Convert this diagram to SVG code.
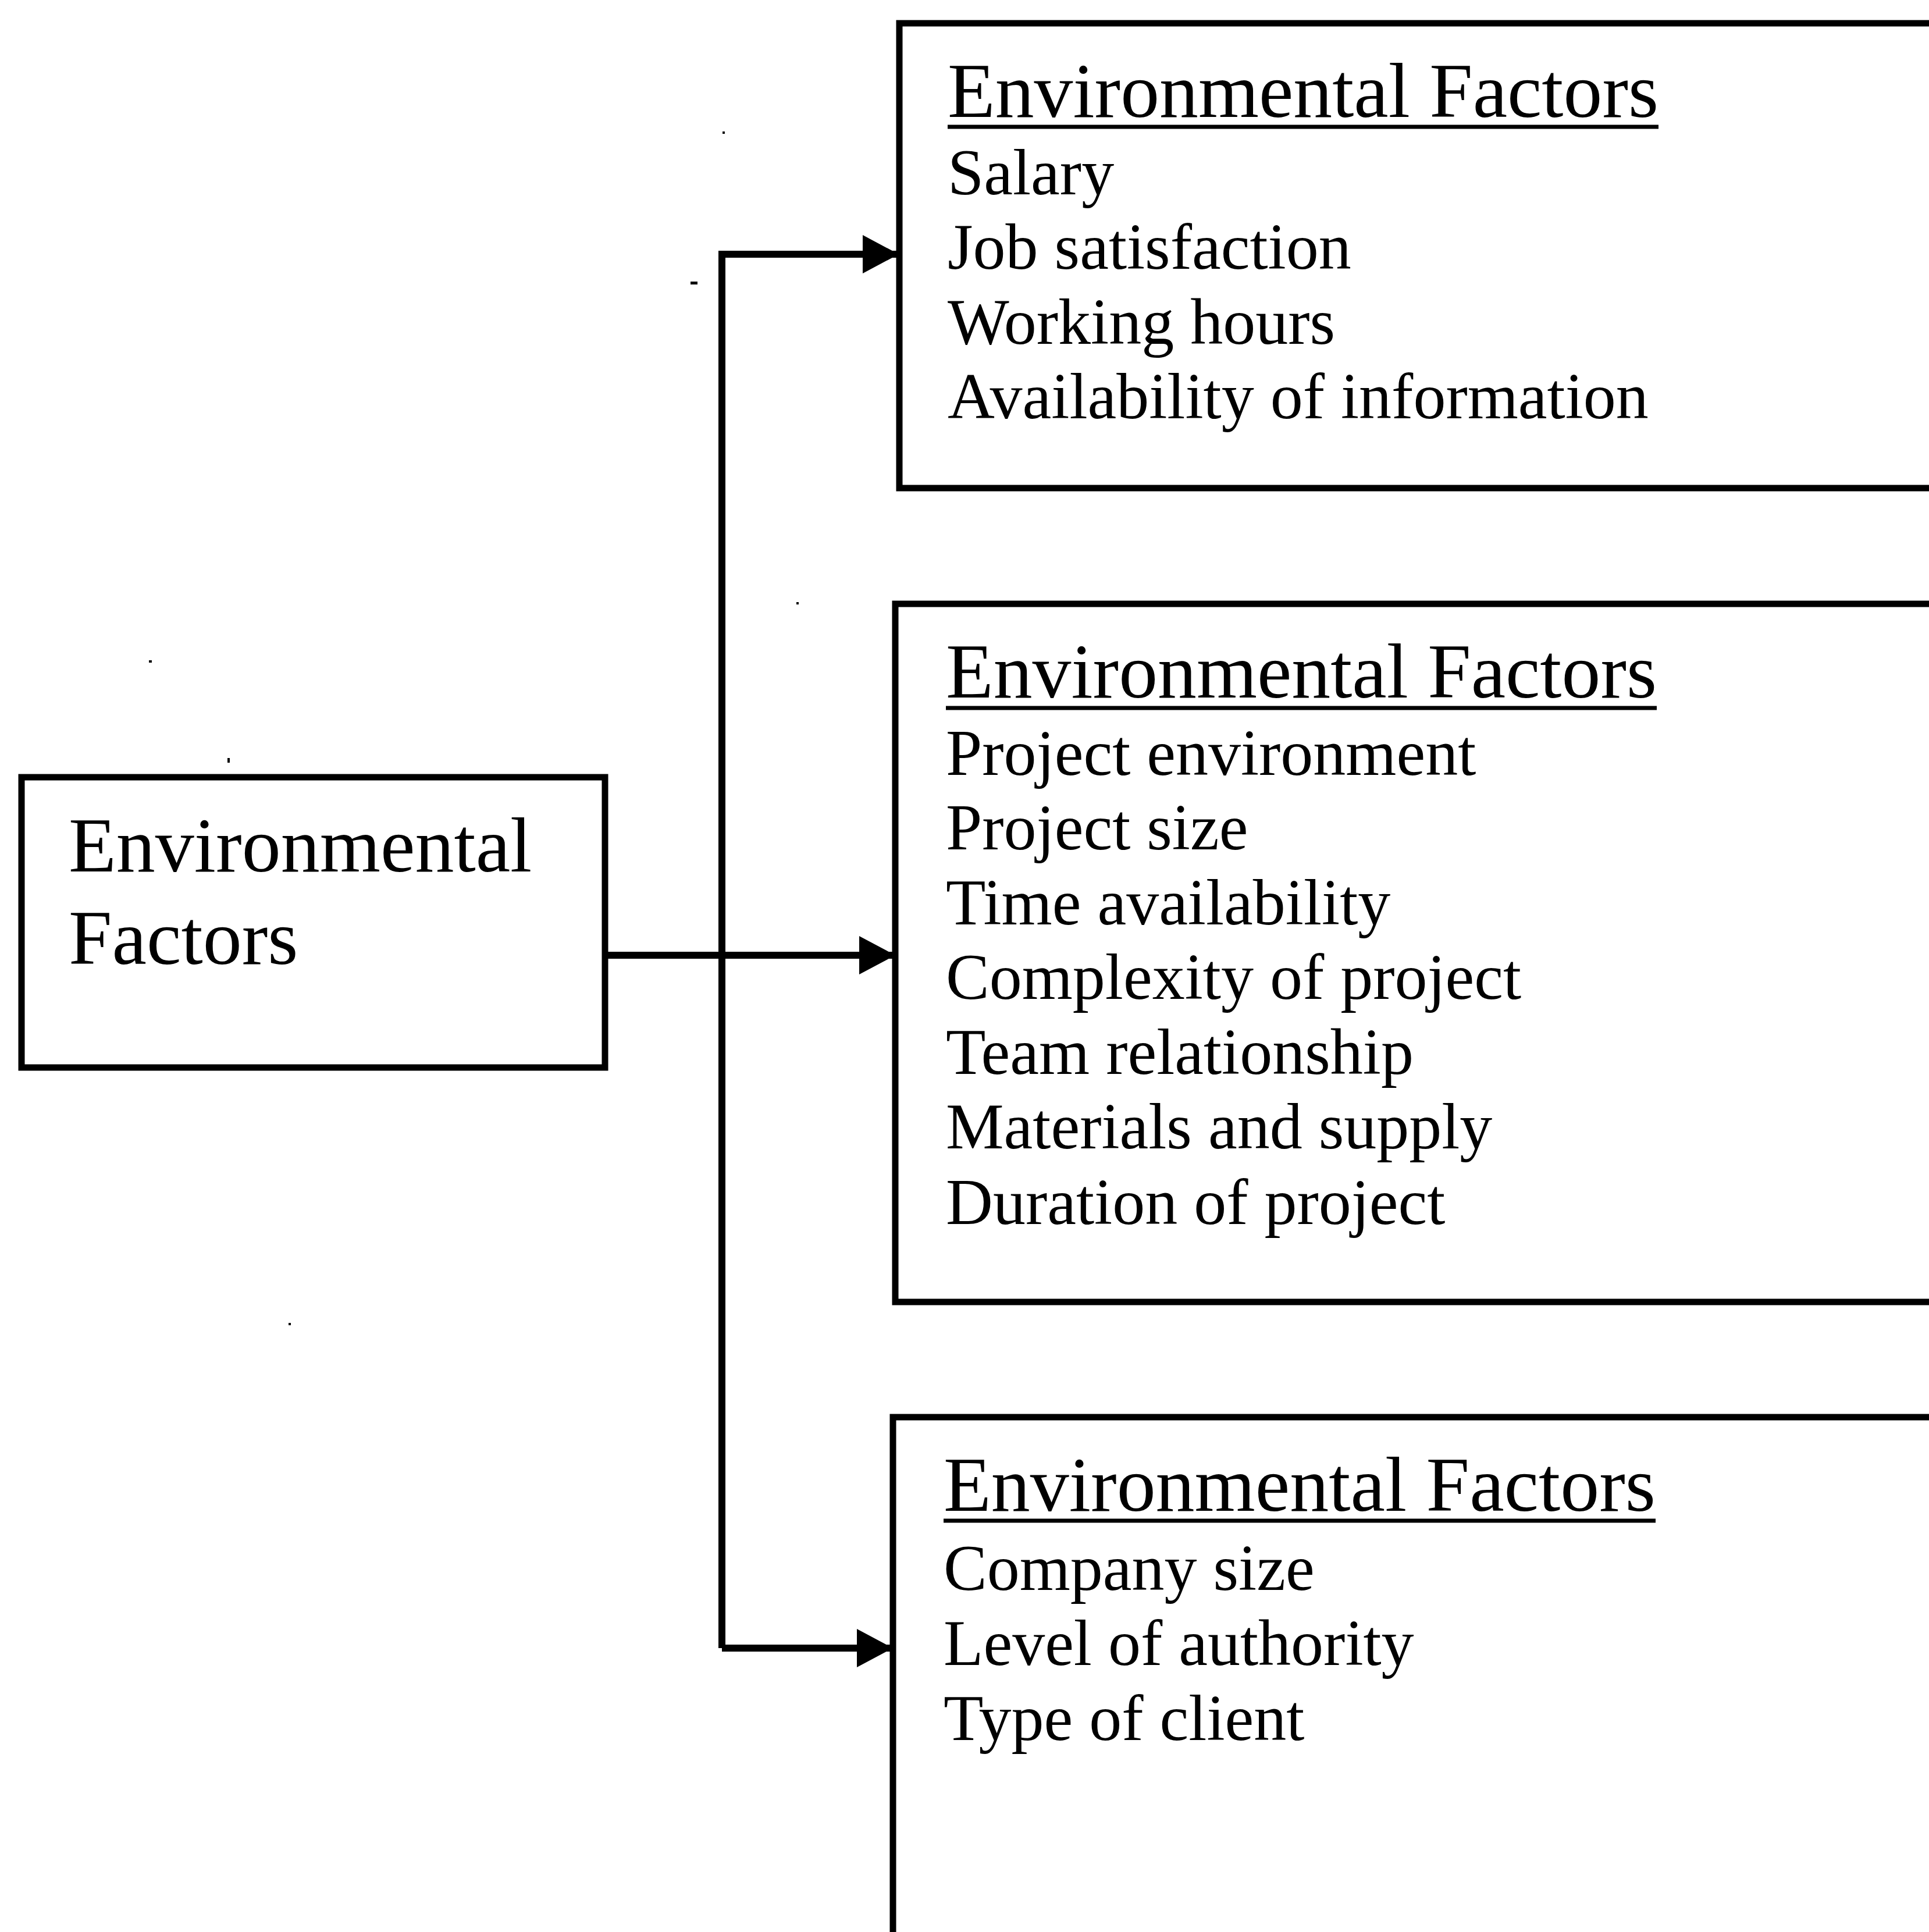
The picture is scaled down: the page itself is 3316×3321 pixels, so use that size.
<svg xmlns="http://www.w3.org/2000/svg" width="3316" height="3321" viewBox="0 0 3316 3321">
  <style>
    .box { fill: none; stroke: #000; stroke-width: 11; }
    .wire { fill: none; stroke: #000; stroke-width: 12; }
    .rule { stroke: #000; stroke-width: 7; }
    .t { font-family: "Liberation Serif", "Times New Roman", serif; fill: #000; }
    .title { font-size: 134px; }
    .item { font-size: 112px; }
    .root { font-size: 134px; }
    .speck { fill: #000; }
  </style>
  <defs>
    <marker id="arrow" markerUnits="userSpaceOnUse" markerWidth="64" markerHeight="68" refX="62" refY="34" orient="auto">
      <path d="M0,1 L62,34 L0,67 z" fill="#000"/>
    </marker>
  </defs>
  <rect width="3316" height="3321" fill="#fff"/>

  <!-- source node -->
  <g id="node-root">
    <rect class="box" x="37" y="1336" width="1003" height="499"/>
    <text class="t root" x="118" y="1498">Environmental</text>
    <text class="t root" x="118" y="1657">Factors</text>
  </g>

  <!-- personal factors -->
  <g id="node-top">
    <path class="box" d="M3330,40 H1546 V839 H3330"/>
    <text class="t title" x="1629" y="201" textLength="1222" lengthAdjust="spacingAndGlyphs">Environmental Factors</text>
    <line class="rule" x1="1629" y1="218" x2="2851" y2="218"/>
    <text class="t item" x="1629" y="334">Salary</text>
    <text class="t item" x="1629" y="462">Job satisfaction</text>
    <text class="t item" x="1629" y="591">Working hours</text>
    <text class="t item" x="1629" y="719">Availability of information</text>
  </g>

  <!-- project factors -->
  <g id="node-middle">
    <path class="box" d="M3330,1038 H1539 V2238 H3330"/>
    <text class="t title" x="1626" y="1199" textLength="1222" lengthAdjust="spacingAndGlyphs">Environmental Factors</text>
    <line class="rule" x1="1626" y1="1217" x2="2848" y2="1217"/>
    <text class="t item" x="1626" y="1332">Project environment</text>
    <text class="t item" x="1626" y="1460">Project size</text>
    <text class="t item" x="1626" y="1589">Time availability</text>
    <text class="t item" x="1626" y="1717">Complexity of project</text>
    <text class="t item" x="1626" y="1846">Team relationship</text>
    <text class="t item" x="1626" y="1974">Materials and supply</text>
    <text class="t item" x="1626" y="2104">Duration of project</text>
  </g>

  <!-- organisational factors -->
  <g id="node-bottom">
    <path class="box" d="M3330,2436 H1535 V3330"/>
    <text class="t title" x="1622" y="2597" textLength="1224" lengthAdjust="spacingAndGlyphs">Environmental Factors</text>
    <line class="rule" x1="1622" y1="2614" x2="2846" y2="2614"/>
    <text class="t item" x="1622" y="2733">Company size</text>
    <text class="t item" x="1622" y="2862">Level of authority</text>
    <text class="t item" x="1622" y="2991">Type of client</text>
  </g>

  <!-- connectors -->
  <g id="connectors">
    <polyline class="wire" points="1241,2833 1241,437 1545,437" marker-end="url(#arrow)"/>
    <line class="wire" x1="1040" y1="1642" x2="1539" y2="1642" marker-end="url(#arrow)"/>
    <line class="wire" x1="1241" y1="2833" x2="1535" y2="2833" marker-end="url(#arrow)"/>
  </g>

  <!-- scan specks -->
  <g id="specks">
    <rect class="speck" x="1187" y="484" width="12" height="5"/>
    <rect class="speck" x="1242" y="226" width="4" height="4"/>
    <rect class="speck" x="1369" y="1035" width="4" height="4"/>
    <rect class="speck" x="391" y="1303" width="4" height="8"/>
    <rect class="speck" x="256" y="1135" width="5" height="4"/>
    <rect class="speck" x="496" y="2274" width="4" height="4"/>
  </g>
</svg>
